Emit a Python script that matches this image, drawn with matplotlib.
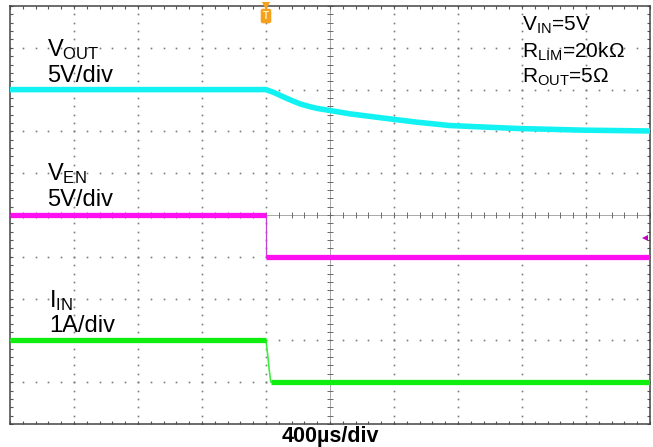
import matplotlib.pyplot as plt
import numpy as np

plt.rcParams["font.family"] = ["Liberation Sans", "DejaVu Sans"]
plt.rcParams["mathtext.fontset"] = "custom"
plt.rcParams["mathtext.rm"] = "Liberation Sans"
plt.rcParams["mathtext.it"] = "Liberation Sans:italic"
plt.rcParams["mathtext.bf"] = "Liberation Sans:bold"

W, H = 653, 447

# scope screen: 10 x 10 div, 400 us/div, trigger at t = 0
T_LEFT, T_RIGHT = -1600, 2400
US_PER_DIV = 400
N_DIV = 10

# traces (time in us, level in divisions from screen bottom)
vout_t = [-1600, 0, 50, 106, 160, 212, 266, 319, 400, 525, 731, 944, 1150, 1569, 1981, 2400]
vout_y = [8.0, 8.0, 7.93, 7.83, 7.74, 7.66, 7.60, 7.55, 7.50, 7.42, 7.32, 7.22, 7.14, 7.07, 7.03, 7.01]

ven_t = [-1600, 0, 0, 2400]
ven_y = [5.0, 5.0, 4.0, 4.0]

iin_t = [-1600, 0, 12, 20, 30, 2400]
iin_y = [2.0, 2.0, 1.6, 1.3, 1.0, 1.0]

ven_marker = 4.45  # channel reference arrow on right edge

CYAN = "#12F2F2"
MAGENTA = "#FF10F0"
GREEN = "#10EE10"
ORANGE = "#F5A11C"


def px(x, y):
    return x / W, 1 - y / H


fig = plt.figure(figsize=(W / 100, H / 100), dpi=100)
ax = fig.add_axes([10 / W, (H - 424) / H, 640 / W, 418 / H])
ax.set_xlim(T_LEFT, T_RIGHT)
ax.set_ylim(0, N_DIV)

# graticule: dotted lines at every division, dots on minor steps
major_t = np.arange(T_LEFT, T_RIGHT + 1, US_PER_DIV)
minor_t = np.arange(T_LEFT, T_RIGHT + 1, US_PER_DIV / 5)
major_y = np.arange(0, N_DIV + 1)
minor_y = np.arange(0, N_DIV + 0.01, 0.2)
t_center = (T_LEFT + T_RIGHT) / 2
y_center = N_DIV / 2

for t in major_t[1:-1]:
    if t == t_center:
        continue
    ax.plot(np.full_like(minor_y, t), minor_y, ls="none", marker="s",
            ms=1.2, mew=0, color="#7a7a7a", zorder=1)
for y in major_y[1:-1]:
    if y == y_center:
        continue
    ax.plot(minor_t, np.full_like(minor_t, y), ls="none", marker="s",
            ms=1.2, mew=0, color="#7a7a7a", zorder=1)

# center crosshair with ticks
ax.axvline(t_center, color="#9a9a9a", lw=0.6, zorder=1)
ax.axhline(y_center, color="#9a9a9a", lw=0.6, zorder=1)
ax.plot(np.full_like(minor_y, t_center), minor_y, ls="none", marker="_",
        ms=4, mew=0.7, color="#6a6a6a", zorder=1)
ax.plot(minor_t, np.full_like(minor_t, y_center), ls="none", marker="|",
        ms=4, mew=0.7, color="#6a6a6a", zorder=1)

# frame ticks
ax.set_xticks(major_t)
ax.set_xticks(minor_t, minor=True)
ax.set_yticks(major_y)
ax.set_yticks(minor_y, minor=True)
ax.tick_params(which="both", direction="in", length=2, width=0.8,
               color="#555555", top=True, right=True,
               labelbottom=False, labelleft=False)
for s in ax.spines.values():
    s.set_color("#444444")
    s.set_linewidth(1.1)

# traces
ax.plot(vout_t, vout_y, color=CYAN, lw=4.0, solid_capstyle="butt",
        solid_joinstyle="round", zorder=3)

ax.plot(ven_t, ven_y, color="#C040D0", lw=0.9, zorder=3)
ax.plot(ven_t[:2], ven_y[:2], color=MAGENTA, lw=3.8, solid_capstyle="butt", zorder=3)
ax.plot(ven_t[2:], ven_y[2:], color=MAGENTA, lw=3.8, solid_capstyle="butt", zorder=3)

ax.plot(iin_t, iin_y, color="#40EE40", lw=1.2, zorder=3)
ax.plot(iin_t[:2], iin_y[:2], color=GREEN, lw=3.8, solid_capstyle="butt", zorder=3)
ax.plot(iin_t[-2:], iin_y[-2:], color=GREEN, lw=3.8, solid_capstyle="butt", zorder=3)

ax.plot([T_RIGHT - 30], [ven_marker], marker="<", ms=4.5, color="#C000C0",
        mew=0, zorder=4, clip_on=False)

# trigger marker
ax.plot([0], [N_DIV], marker="v", ms=6, color=ORANGE, mew=0,
        zorder=5, clip_on=False)
fig.text(*px(266, 16), "T", ha="center", va="center", fontsize=7,
         fontweight="bold", color="#FFF2C0",
         bbox=dict(boxstyle="round,pad=0.2", fc=ORANGE, ec=ORANGE, lw=0.5))

# channel labels
lab = dict(fontsize=17, va="baseline", ha="left", color="black")
fig.text(*px(47, 56), r"$\mathrm{V_{OUT}}$", **lab)
fig.text(*px(47, 82), "5V/div", **lab)
fig.text(*px(47, 180), r"$\mathrm{V_{EN}}$", **lab)
fig.text(*px(47, 206), "5V/div", **lab)
fig.text(*px(49, 307), r"$\mathrm{I_{IN}}$", **lab)
fig.text(*px(49, 332), "1A/div", **lab)

cond = dict(fontsize=15, va="baseline", ha="left", color="black")
fig.text(*px(522, 31), r"$\mathrm{V_{IN}}$=5V", **cond)
fig.text(*px(522, 58), r"$\mathrm{R_{LIM}}$=20kΩ", **cond)
fig.text(*px(522, 83), r"$\mathrm{R_{OUT}}$=5Ω", **cond)

fig.text(*px(330, 442), "400µs/div", ha="center", va="baseline",
         fontsize=15.5, fontweight="bold")

fig.savefig("out.png", dpi=100)
